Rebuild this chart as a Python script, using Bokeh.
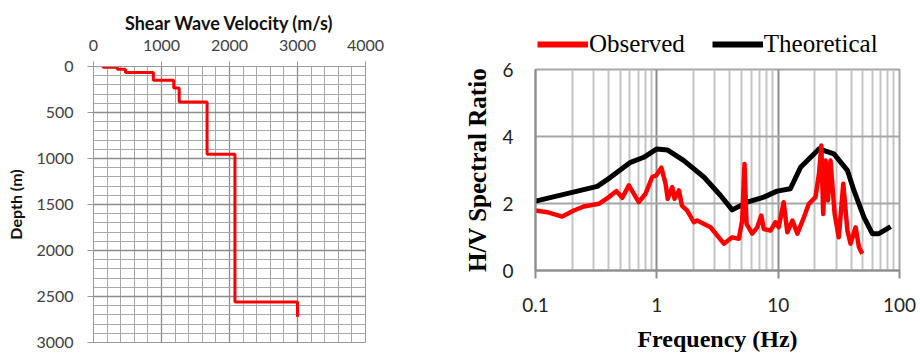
from bokeh.plotting import figure
from bokeh.layouts import column
from bokeh.models import Range1d, FixedTicker, Legend, LegendItem
from bokeh.embed import file_html
from bokeh.resources import INLINE

# ---------------- data ----------------
# Shear-wave velocity profile (layers)
layer_vs = [140, 350, 470, 880, 1180, 1260, 1670, 2080, 3000]
layer_top = [0, 8, 30, 65, 150, 235, 385, 955, 2560]
profile_bottom = 2720

vs_ticks = [0, 1000, 2000, 3000, 4000]
depth_ticks = [0, 500, 1000, 1500, 2000, 2500, 3000]

# H/V spectral ratio
obs_f = [0.1, 0.125, 0.166, 0.207, 0.25, 0.333, 0.402, 0.465, 0.519, 0.588, 0.71, 0.807,
         0.916, 0.99, 1.09, 1.18, 1.23, 1.34, 1.40, 1.52, 1.61, 1.78, 2.02, 2.15, 2.77,
         3.57, 4.18, 4.74, 5.05, 5.28, 5.49, 6.11, 6.72, 7.26, 7.62, 8.65, 9.5, 10.1,
         11.1, 11.9, 13.1, 14.4, 16.3, 17.9, 20.3, 21.7, 22.7, 23.5, 24.6, 25.7, 27.0,
         29.2, 31.6, 34.4, 37.2, 39.5, 43.5, 46.3, 49.3]
obs_hv = [1.79, 1.74, 1.61, 1.79, 1.91, 1.99, 2.19, 2.37, 2.17, 2.54, 2.04, 2.29,
          2.79, 2.84, 3.07, 2.59, 2.14, 2.49, 2.14, 2.39, 1.94, 1.79, 1.44, 1.49, 1.29,
          0.80, 0.99, 0.95, 1.49, 3.18, 1.39, 1.10, 1.29, 1.64, 1.24, 1.19, 1.44, 1.29,
          2.04, 1.14, 1.49, 1.10, 1.59, 1.99, 2.19, 2.89, 3.73, 1.69, 3.28, 2.09, 3.28,
          1.69, 0.99, 2.59, 1.19, 0.80, 1.29, 0.70, 0.50]

th_f = [0.1, 0.323, 0.415, 0.607, 0.78, 1.0, 1.22, 1.67, 2.44, 3.35, 4.18, 5.56, 7.62,
        9.8, 12.6, 15.3, 21.7, 28.8, 37.2, 42.1, 50.9, 59.7, 67.6, 84.6]
th_hv = [2.07, 2.51, 2.78, 3.23, 3.38, 3.63, 3.60, 3.28, 2.79, 2.24, 1.81, 2.04, 2.19,
         2.37, 2.44, 3.08, 3.63, 3.48, 2.99, 2.39, 1.59, 1.10, 1.10, 1.31]

freq_ticks = [0.1, 1, 10, 100]
hv_ticks = [0, 2, 4, 6]
series_names = ["Observed", "Theoretical"]
series_colors = ["#ff0000", "black"]

SANS = "Lato"
SERIF = "Liberation Serif"

# ---------------- left: Vs profile ----------------
step_x, step_y = [], []
bottoms = layer_top[1:] + [profile_bottom]
for v, t, b in zip(layer_vs, layer_top, bottoms):
    step_x += [v, v]
    step_y += [t, b]

p1 = figure(width=428, height=354, output_backend="svg", toolbar_location=None,
            x_axis_location="above", x_range=Range1d(0, 4000), y_range=Range1d(3000, 0),
            min_border_left=93, min_border_right=63, min_border_top=66, min_border_bottom=12)
p1.line(step_x, step_y, line_color="#ff0000", line_width=3)

minor_vs = [v for v in range(0, 4001, 200) if v not in vs_ticks]
minor_d = [d for d in range(0, 3001, 100) if d not in depth_ticks]
p1.xaxis.ticker = FixedTicker(ticks=vs_ticks, minor_ticks=minor_vs)
p1.yaxis.ticker = FixedTicker(ticks=depth_ticks, minor_ticks=minor_d)
for ax in (p1.xaxis, p1.yaxis):
    ax.axis_line_color = "#999999"
    ax.major_tick_line_color = "#999999"
    ax.major_tick_in = 0
    ax.minor_tick_out = 0
    ax.minor_tick_in = 0
    ax.major_label_text_font = SANS
    ax.major_label_text_font_size = "16px"
    ax.major_label_text_color = "#404040"
    ax.axis_label_text_font = SANS
    ax.axis_label_text_font_style = "bold"
    ax.axis_label_text_color = "#111111"
p1.xaxis.axis_label = "Shear Wave Velocity (m/s)"
p1.xaxis.axis_label_text_font_size = "18px"
p1.xaxis.major_tick_out = 5
p1.xaxis.major_label_standoff = 11
p1.xaxis.axis_label_standoff = 3
p1.yaxis.axis_label = "Depth (m)"
p1.yaxis.axis_label_text_font_size = "16px"
p1.yaxis.major_tick_out = 6
p1.yaxis.major_label_standoff = 14
p1.yaxis.axis_label_standoff = 8
for g in (p1.xgrid, p1.ygrid):
    g.grid_line_color = "#8c8c8c"
    g.grid_line_width = 1.3
    g.minor_grid_line_color = "#a8a8a8"
    g.minor_grid_line_width = 1
p1.outline_line_color = "#999999"

# ---------------- right: H/V ----------------
p2 = figure(width=492, height=296, output_backend="svg", toolbar_location=None,
            x_axis_type="log", x_range=Range1d(0.1, 100), y_range=Range1d(0, 6),
            min_border_left=107, min_border_right=21, min_border_top=11, min_border_bottom=84)
minor_f = [m * 10.0 ** e for e in (-1, 0, 1) for m in range(2, 10)]
p2.xaxis.ticker = FixedTicker(ticks=freq_ticks, minor_ticks=minor_f)
p2.yaxis.ticker = FixedTicker(ticks=hv_ticks)
p2.xaxis.major_label_overrides = {0.1: "0.1", 1: "1", 10: "10", 100: "100"}

p2.line(th_f, th_hv, line_color=series_colors[1], line_width=5, line_join="round")
p2.line(obs_f, obs_hv, line_color=series_colors[0], line_width=4.5, line_join="round")

for ax in (p2.xaxis, p2.yaxis):
    ax.axis_line_color = "#8c8c8c"
    ax.axis_line_width = 2
    ax.major_tick_line_color = "#8c8c8c"
    ax.major_tick_line_width = 2
    ax.major_tick_in = 0
    ax.minor_tick_out = 0
    ax.minor_tick_in = 0
    ax.major_label_text_font = SANS
    ax.major_label_text_font_size = "19px"
    ax.major_label_text_color = "#222222"
    ax.axis_label_text_font = SERIF
    ax.axis_label_text_font_style = "bold"
    ax.axis_label_text_color = "black"
p2.xaxis.axis_label = "Frequency (Hz)"
p2.xaxis.axis_label_text_font_size = "24px"
p2.xaxis.major_tick_out = 8
p2.xaxis.major_label_standoff = 19
p2.xaxis.axis_label_standoff = 11
p2.yaxis.axis_label = "H/V Spectral Ratio"
p2.yaxis.axis_label_text_font_size = "25px"
p2.yaxis.major_tick_out = 0
p2.yaxis.major_label_standoff = 22
p2.yaxis.axis_label_standoff = 8
p2.xgrid.grid_line_color = "#8c8c8c"
p2.xgrid.grid_line_width = 2
p2.xgrid.minor_grid_line_color = "#c4c4c4"
p2.xgrid.minor_grid_line_width = 2
p2.ygrid.grid_line_color = "#a6a6a6"
p2.ygrid.grid_line_width = 2
p2.outline_line_color = "#a6a6a6"
p2.outline_line_width = 2

# legend strip above the H/V chart (its series lie outside this strip's ranges,
# so only the legend glyphs show)
pl = figure(width=492, height=58, output_backend="svg", toolbar_location=None,
            x_axis_location=None, y_axis_location=None,
            x_range=Range1d(1000, 1001), y_range=Range1d(1000, 1001),
            min_border_left=107, min_border_right=21, min_border_top=0, min_border_bottom=0)
pl.grid.visible = False
pl.outline_line_color = None
items = []
for name, col, fx, fy in zip(series_names, series_colors, [obs_f, th_f], [obs_hv, th_hv]):
    r = pl.line(fx, fy, line_color=col, line_width=6)
    items.append(LegendItem(label=name, renderers=[r]))
legend = Legend(items=items, orientation="horizontal", location=(2, 0),
                margin=0, padding=0, spacing=27, label_standoff=1,
                glyph_width=51, glyph_height=20,
                label_text_font=SERIF, label_text_font_size="25px",
                label_text_color="black",
                border_line_alpha=0, background_fill_alpha=0)
pl.add_layout(legend, "center")

right = column(pl, p2)

html = file_html([p1, right], INLINE)
css = ("<style>html,body{margin:0 !important;padding:0 !important;}"
       "body{display:flex !important;flex-direction:row !important;align-items:flex-start !important;}</style>")
html = html.replace("</head>", css + "</head>", 1)
open("out.html", "w").write(html)
